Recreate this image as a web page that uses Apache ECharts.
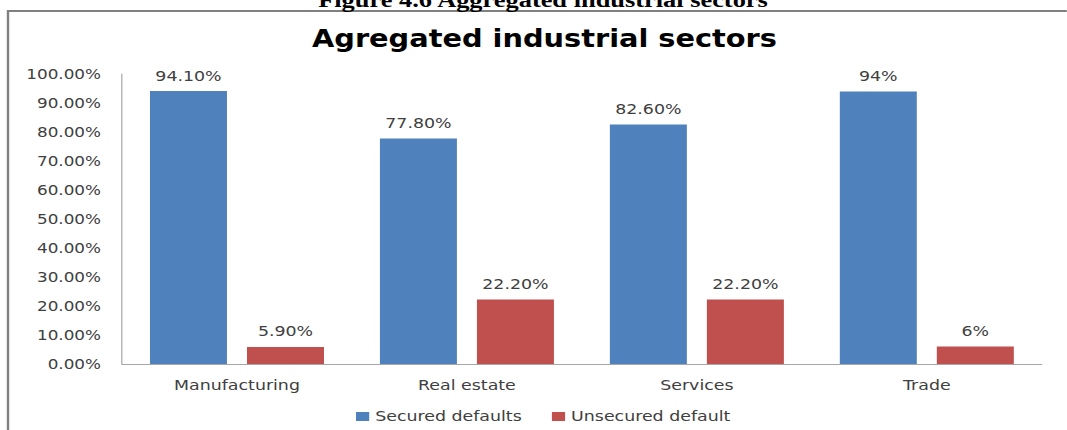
<!DOCTYPE html>
<html>
<head>
<meta charset="utf-8">
<script src="https://cdn.jsdelivr.net/npm/echarts@6/dist/echarts.min.js"></script>
<style>
html,body{margin:0;padding:0;background:#fff;overflow:hidden;}
#wrap{width:1067px;height:430px;overflow:hidden;position:relative;}
#chart{width:889.17px;height:430px;transform:scaleX(1.2);transform-origin:0 0;}
</style>
</head>
<body>
<div id="wrap"><div id="chart"></div></div>
<script>
const categories = ['Manufacturing', 'Real estate', 'Services', 'Trade'];
const securedValues = [94.1, 77.8, 82.6, 94];
const unsecuredValues = [5.9, 22.2, 22.2, 6];
const securedLabels = ['94.10%', '77.80%', '82.60%', '94%'];
const unsecuredLabels = ['5.90%', '22.20%', '22.20%', '6%'];
const seriesNames = ['Secured defaults', 'Unsecured default'];
const chartTitle = 'Agregated industrial sectors';
const figureCaption = 'Figure 4.6 Aggregated industrial sectors';

const FONT = 'DejaVu Sans';
const TXT = '#404040';
const SX = 1.2; // horizontal stretch of the reference picture

const chart = echarts.init(document.getElementById('chart'), null, {renderer: 'svg'});
chart.setOption({
  backgroundColor: '#fff',
  animation: false,
  title: {
    text: chartTitle,
    left: 306 / SX,
    top: 21,
    textStyle: {fontFamily: FONT, fontWeight: 'bold', fontSize: 24, color: '#000'}
  },
  graphic: [
    {type: 'rect', shape: {x: 8 / SX, y: 11, width: 1200, height: 600}, style: {fill: 'none', stroke: '#808080', lineWidth: 2}, silent: true},
    {type: 'text', x: 543 / SX, y: 10, style: {text: figureCaption, align: 'center', verticalAlign: 'bottom', font: 'bold 22px "Liberation Serif"', fill: '#000'}, silent: true}
  ],
  legend: {
    bottom: 1,
    left: 350 / SX,
    itemWidth: 11,
    itemHeight: 9,
    itemGap: 25,
    icon: 'rect',
    textStyle: {fontFamily: FONT, fontSize: 14.5, color: TXT},
    data: seriesNames
  },
  grid: {left: 122 / SX, right: 25 / SX, top: 74, bottom: 66},
  xAxis: {
    type: 'category',
    data: categories,
    axisLine: {lineStyle: {color: '#a6a6a6', width: 1}},
    axisTick: {show: false},
    axisLabel: {fontFamily: FONT, fontSize: 14.5, color: TXT, margin: 14}
  },
  yAxis: {
    type: 'value',
    min: 0,
    max: 100,
    interval: 10,
    axisLine: {show: true, lineStyle: {color: '#a6a6a6', width: 1}},
    axisTick: {show: false},
    splitLine: {show: false},
    axisLabel: {fontFamily: FONT, fontSize: 14, color: TXT, margin: 21 / SX, formatter: v => v.toFixed(2) + '%'}
  },
  series: [
    {
      name: seriesNames[0], type: 'bar', data: securedValues,
      barWidth: 77 / SX, barGap: '26%',
      itemStyle: {color: '#4F81BD'},
      label: {show: true, position: 'top', distance: 8, fontFamily: FONT, fontSize: 14.5, color: TXT,
        formatter: p => securedLabels[p.dataIndex]}
    },
    {
      name: seriesNames[1], type: 'bar', data: unsecuredValues,
      barWidth: 77 / SX,
      itemStyle: {color: '#C0504D'},
      label: {show: true, position: 'top', distance: 8, fontFamily: FONT, fontSize: 14.5, color: TXT,
        formatter: p => unsecuredLabels[p.dataIndex]}
    }
  ]
});
</script>
</body>
</html>
